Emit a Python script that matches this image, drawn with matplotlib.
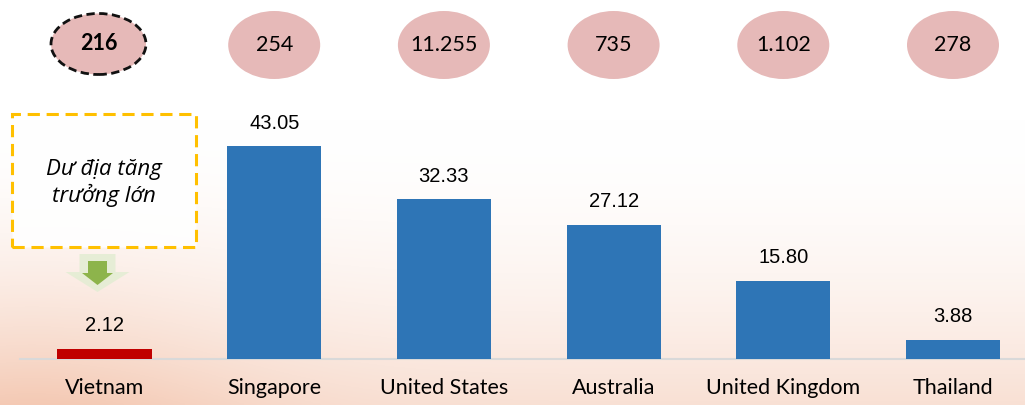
import numpy as np
import matplotlib
matplotlib.use("Agg")
import matplotlib.pyplot as plt
from matplotlib.patches import Ellipse, FancyArrow, Rectangle

# data
countries = ["Vietnam", "Singapore", "United States", "Australia", "United Kingdom", "Thailand"]
values = [2.12, 43.05, 32.33, 27.12, 15.80, 3.88]
value_labels = ["2.12", "43.05", "32.33", "27.12", "15.80", "3.88"]
bubble_labels = ["216", "254", "11.255", "735", "1.102", "278"]
note_text = "Dư địa tăng\ntrưởng lớn"

bar_colors = ["#C00000"] + ["#2E75B6"] * 5
bubble_color = "#E6B9B8"

W, H = 1025, 405
fig = plt.figure(figsize=(W / 100, H / 100), dpi=100)

# soft warm background (stand-in for the blurred photo)
bg = fig.add_axes([0, 0, 1, 1])
bg.set_axis_off()
yy, xx = np.mgrid[0:1:200j, 0:1:400j]
t = np.clip((yy - 0.3) / 0.7, 0, 1) ** 1.8
t = t * (0.6 + 0.45 * np.exp(-((xx - 0.03) / 0.22) ** 2))
white = np.array([1.0, 1.0, 1.0])
peach = np.array([0.96, 0.80, 0.72])
img = white[None, None, :] * (1 - t[..., None]) + peach[None, None, :] * t[..., None]
bg.imshow(img, aspect="auto", extent=[0, 1, 0, 1], origin="upper")
bg.set_xlim(0, 1)
bg.set_ylim(0, 1)

px_per_x = 169.7
px_per_y = 4.95
x0_px = 104.5
base_px = 359

ax = fig.add_axes([0, (H - base_px) / H, 1, base_px / H])
ax.patch.set_alpha(0)
ax.set_xlim(-x0_px / px_per_x, (W - x0_px) / px_per_x)
ax.set_ylim(0, base_px / px_per_y)

x = np.arange(len(countries))
bars = ax.bar(x, values, width=0.555, color=bar_colors, zorder=3)

for xi, v, lab in zip(x, values, value_labels):
    ax.annotate(lab, (xi, v), xytext=(0, 12.5), textcoords="offset points",
                ha="center", va="baseline", fontsize=14.5, family="Liberation Sans")

for s in ["top", "right", "left"]:
    ax.spines[s].set_visible(False)
ax.spines["bottom"].set_color("#D9D9D9")
ax.spines["bottom"].set_linewidth(1.5)
ax.spines["bottom"].set_bounds(-0.5, ax.get_xlim()[1])
ax.set_yticks([])
ax.set_xticks(x)
ax.set_xticklabels(countries, fontsize=15.5, family="Lato")
ax.tick_params(axis="x", length=0, pad=14)

# bubbles above each country
def px_w(p):
    return p / px_per_x

def px_h(p):
    return p / px_per_y

for i, lab in enumerate(bubble_labels):
    if i == 0:
        e = Ellipse((i - px_w(6), (base_px - 44) / px_per_y), px_w(95), px_h(61),
                    facecolor=bubble_color, edgecolor="#111111", lw=2, ls=(0, (3, 1.6)),
                    clip_on=False, zorder=4)
        ax.add_patch(e)
        ax.text(i - px_w(6), (base_px - 44) / px_per_y, lab, ha="center", va="center",
                fontsize=15.5, fontweight="bold", family="Lato", zorder=5)
    else:
        e = Ellipse((i, (base_px - 45) / px_per_y), px_w(92), px_h(68),
                    facecolor=bubble_color, edgecolor="none", clip_on=False, zorder=4)
        ax.add_patch(e)
        ax.text(i, (base_px - 45) / px_per_y, lab, ha="center", va="center",
                fontsize=15.5, family="Lato", zorder=5)

# dashed note box
bx0, bx1 = (12 - x0_px) / px_per_x, (196 - x0_px) / px_per_x
by0, by1 = (base_px - 247) / px_per_y, (base_px - 114) / px_per_y
box = Rectangle((bx0, by0), bx1 - bx0, by1 - by0, facecolor=(1, 1, 1, 0.9),
                edgecolor="#FFC000", lw=2.2, ls=(0, (4, 2.2)), clip_on=False, zorder=4)
ax.add_patch(box)
ax.text((bx0 + bx1) / 2, (base_px - 183) / px_per_y, note_text, ha="center", va="center",
        fontsize=16, style="italic", family=["Open Sans", "DejaVu Sans"],
        linespacing=1.2, zorder=5)

# green arrow pointing at Vietnam
ax_c = (97.5 - x0_px) / px_per_x
ax.add_patch(FancyArrow(ax_c, (base_px - 254) / px_per_y, 0, -px_h(38),
                        width=px_w(36), head_width=px_w(64), head_length=px_h(20),
                        length_includes_head=True, color="#E3EDD3", alpha=0.85,
                        lw=0, zorder=4))
ax.add_patch(FancyArrow(ax_c, (base_px - 261) / px_per_y, 0, -px_h(24),
                        width=px_w(19), head_width=px_w(31), head_length=px_h(12),
                        length_includes_head=True, color="#8DB44B", lw=0, zorder=5))

fig.savefig("out.png", dpi=100)
